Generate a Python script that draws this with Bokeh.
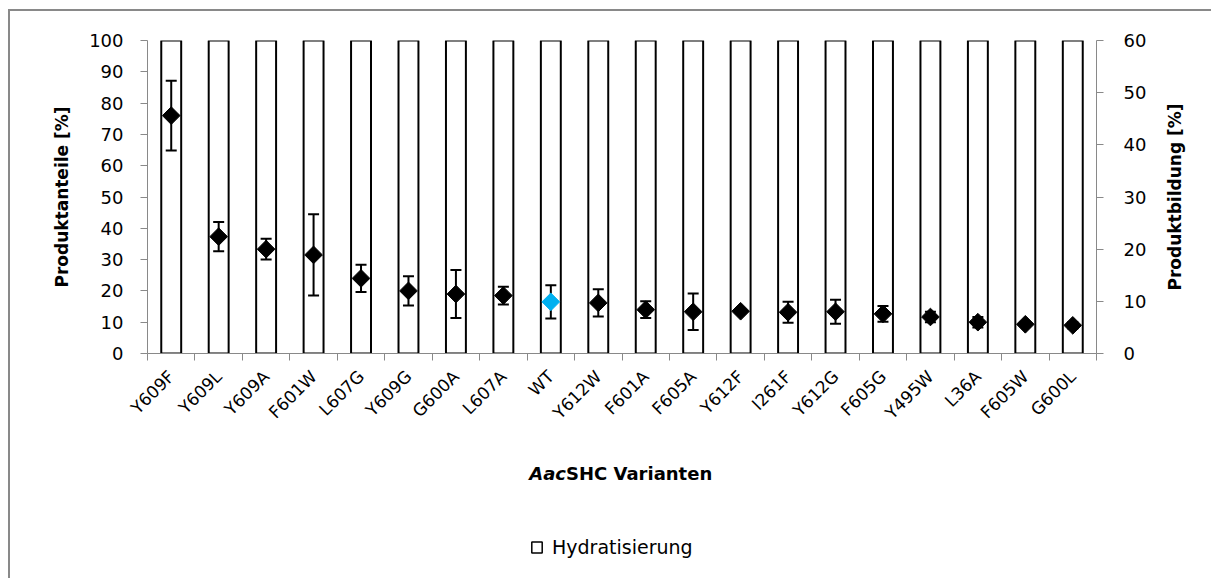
import math
from bokeh.plotting import figure
from bokeh.layouts import column, row
from bokeh.models import (Range1d, LinearAxis, FixedTicker, Legend, LegendItem,
                          ColumnDataSource, Div, Spacer)
from bokeh.core.properties import value
from bokeh.embed import file_html
from bokeh.resources import INLINE

# ---------------- data ----------------
categories = ["Y609F", "Y609L", "Y609A", "F601W", "L607G", "Y609G", "G600A", "L607A",
              "WT", "Y612W", "F601A", "F605A", "Y612F", "I261F", "Y612G", "F605G",
              "Y495W", "L36A", "F605W", "G600L"]
hydratisierung = [100, 100, 100, 100, 100, 100, 100, 100, 100, 100,
                  100, 100, 100, 100, 100, 100, 100, 100, 100, 100]
produktbildung = [45.6, 22.4, 20.0, 18.9, 14.4, 12.0, 11.4, 11.1, 9.9, 9.7,
                  8.4, 8.0, 8.1, 7.9, 8.0, 7.6, 7.0, 6.0, 5.6, 5.4]
fehler = [6.7, 2.8, 2.0, 7.8, 2.6, 2.8, 4.6, 1.7, 3.2, 2.6,
          1.6, 3.5, 0.4, 2.0, 2.3, 1.5, 1.0, 1.0, 0.4, 0.6]
left_ticks = [0, 10, 20, 30, 40, 50, 60, 70, 80, 90, 100]
right_ticks = [0, 10, 20, 30, 40, 50, 60]
highlight = "WT"
left_title = "Produktanteile [%]"
right_title = "Produktbildung [%]"
x_title_parts = ["Aac", "SHC Varianten"]
legend_label = "Hydratisierung"

FONT = "DejaVu Sans"
GRAY = "#898989"

n = len(categories)
xc = [i + 0.5 for i in range(n)]
colors = ["#00B0F0" if c == highlight else "#000000" for c in categories]
src = ColumnDataSource(dict(x=xc, cat=categories, hyd=hydratisierung,
                            prod=produktbildung,
                            lo=[v - e for v, e in zip(produktbildung, fehler)],
                            hi=[v + e for v, e in zip(produktbildung, fehler)],
                            color=colors))

WP = 1146         # main figure width (frame page x 147..1096)
WR = 53           # strip holding the right axis title
W = WP + WR
EXT = 20          # chart area continues past the window edges
H_MAIN = 429
H_BOT = 135 + EXT
TOP, BOT = 29, 87
BL = 137

xr = Range1d(0, n)
yr = Range1d(0, 100)
p = figure(width=WP, height=H_MAIN, output_backend="svg", toolbar_location=None,
           x_range=xr, y_range=yr,
           min_border_left=BL, min_border_right=60, min_border_top=TOP,
           min_border_bottom=BOT)
p.outline_line_color = None
p.xgrid.visible = False
p.ygrid.visible = False

p.extra_y_ranges = {"right": Range1d(0, 60)}

bars = p.vbar(x="x", top="hyd", width=0.42, source=src, fill_color="white",
              line_color="black", line_width=2)

p.segment(x0="x", y0="lo", x1="x", y1="hi", source=src, line_color="black",
          line_width=2, y_range_name="right")
p.scatter(x="x", y="lo", source=src, marker="dash", size=11, line_color="black",
          line_width=2, y_range_name="right")
p.scatter(x="x", y="hi", source=src, marker="dash", size=11, line_color="black",
          line_width=2, y_range_name="right")
p.scatter(x="x", y="prod", source=src, marker="square", angle=math.pi / 4, size=12.5,
          fill_color="color", line_color="color", y_range_name="right")

# x axis
xa = p.xaxis[0]
xa.ticker = FixedTicker(ticks=xc, minor_ticks=list(range(n + 1)))
xa.major_label_overrides = {x: c for x, c in zip(xc, categories)}
xa.major_label_orientation = math.pi / 4
xa.major_tick_out = 0
xa.major_tick_in = 0
xa.minor_tick_out = 7
xa.minor_tick_in = 0
xa.minor_tick_line_color = GRAY
xa.axis_line_color = GRAY
xa.major_label_text_font = FONT
xa.major_label_text_font_size = "17px"
xa.major_label_text_color = "black"
xa.major_label_standoff = 13

# left axis
ya = p.yaxis[0]
ya.ticker = FixedTicker(ticks=left_ticks)
ya.minor_tick_line_color = None
ya.major_tick_out = 7
ya.major_tick_in = 0
ya.major_tick_line_color = GRAY
ya.axis_line_color = GRAY
ya.major_label_text_font = FONT
ya.major_label_text_font_size = "18px"
ya.major_label_text_color = "black"
ya.major_label_standoff = 17
ya.axis_label = left_title
ya.axis_label_text_font = FONT
ya.axis_label_text_font_size = "17px"
ya.axis_label_text_font_style = "bold"
ya.axis_label_text_color = "black"
ya.axis_label_standoff = 14

# right axis (title is drawn in the strip to its right, reading bottom-to-top)
ra = LinearAxis(y_range_name="right", ticker=FixedTicker(ticks=right_ticks))
ra.minor_tick_line_color = None
ra.major_tick_out = 7
ra.major_tick_in = 0
ra.major_tick_line_color = GRAY
ra.axis_line_color = GRAY
ra.major_label_text_font = FONT
ra.major_label_text_font_size = "18px"
ra.major_label_text_color = "black"
ra.major_label_standoff = 20
p.add_layout(ra, "right")

pr = figure(width=WR, height=H_MAIN, output_backend="svg", toolbar_location=None,
            x_range=Range1d(0, WR), y_range=yr,
            min_border_left=0, min_border_right=0, min_border_top=TOP,
            min_border_bottom=BOT, x_axis_location=None, y_axis_location=None)
pr.outline_line_color = None
pr.xgrid.visible = False
pr.ygrid.visible = False
pr.text(x=[18], y=[(yr.start + yr.end) / 2], text=[right_title], angle=math.pi / 2,
        text_align="center", text_baseline="middle", text_font=value(FONT),
        text_font_size="17px", text_font_style="bold", text_color="black")

# ---------------- bottom strip: x title + legend ----------------
FW = WP - BL - 60   # frame width of the main figure
pb = figure(width=W, height=H_BOT, output_backend="svg", toolbar_location=None,
            x_range=Range1d(-BL / FW * n, (W - BL) / FW * n),
            y_range=Range1d(0, H_BOT),
            min_border_left=0, min_border_right=0, min_border_top=0,
            min_border_bottom=0, x_axis_location=None, y_axis_location=None)
pb.outline_line_color = None
pb.xgrid.visible = False
pb.ygrid.visible = False

mid = n / 2
pb.text(x=[mid], y=[H_BOT - 33], text=[x_title_parts[0]], x_offset=-56,
        text_align="right", text_baseline="middle", text_font=value(FONT),
        text_font_size="18px", text_font_style="bold italic", text_color="black")
pb.text(x=[mid], y=[H_BOT - 33], text=[x_title_parts[1]], x_offset=-56,
        text_align="left", text_baseline="middle", text_font=value(FONT),
        text_font_size="18px", text_font_style="bold", text_color="black")

# legend (sample bar lies outside the visible range; it only feeds the legend glyph)
leg_src = ColumnDataSource(dict(x=[-50], top=[0]))
leg_r = pb.vbar(x="x", top="top", width=0.42, source=leg_src, fill_color="white",
                line_color="black", line_width=1.5)
legend = Legend(items=[LegendItem(label=legend_label, renderers=[leg_r], index=0)],
                location=(BL + 383, 17 + EXT), orientation="horizontal",
                border_line_color=None, background_fill_alpha=0,
                label_text_font=FONT, label_text_font_size="19px",
                label_text_color="black",
                glyph_width=13, glyph_height=14, padding=0, margin=0, spacing=0,
                label_standoff=9)
pb.add_layout(legend, "center")

# outer chart-area frame (visible on top and left only; it runs past the window)
frame_left = Div(width=2, height=2 + H_MAIN + H_BOT, margin=0,
                 styles={"background-color": GRAY})
frame_top = Div(width=W + EXT, height=2, margin=0, styles={"background-color": GRAY})
root = column(Spacer(width=8 + 2 + W + EXT, height=9, margin=0),
              row(Spacer(width=8, height=2 + H_MAIN + H_BOT, margin=0), frame_left,
                  column(frame_top, row(p, pr, spacing=0), pb, spacing=0),
                  spacing=0),
              spacing=0)

open("out.html", "w").write(file_html(root, INLINE))
